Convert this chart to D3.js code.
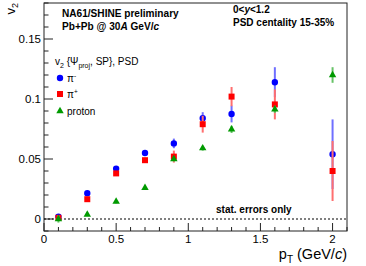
<!DOCTYPE html>
<html lang="en">
<head>
  <meta charset="UTF-8">
  <title>v2 vs pT</title>
  <script src="https://d3js.org/d3.v7.min.js"></script>
  <style>
    body { margin: 0; background: #fff; }
    text { font-family: "Liberation Sans", Arial, sans-serif; }
  </style>
</head>
<body>
  <div id="viz"></div>

  <script>
    // pT bin centres (GeV/c)
    const ptValues = [0.1, 0.3, 0.5, 0.7, 0.9, 1.1, 1.3, 1.6, 2.0];

    // v2 values and stat. errors
    const piMinusV2  = [0.002, 0.0215, 0.042, 0.055, 0.063, 0.084, 0.0875, 0.114, 0.054];
    const piMinusErr = [0.002, 0.0015, 0.0015, 0.002, 0.004, 0.005, 0.007, 0.0125, 0.029];

    const piPlusV2   = [0.001, 0.0165, 0.038, 0.049, 0.052, 0.079, 0.102, 0.0955, 0.040];
    const piPlusErr  = [0.002, 0.0015, 0.0015, 0.002, 0.005, 0.007, 0.008, 0.0125, 0.025];

    const protonV2   = [0.000, 0.0037, 0.0145, 0.026, 0.050, 0.059, 0.0747, 0.0914, 0.120];
    const protonErr  = [0.003, 0.001, 0.0015, 0.0015, 0.002, 0.002, 0.003, 0.003, 0.0065];

    const xTicks = [0, 0.5, 1, 1.5, 2];
    const yTicks = [0, 0.05, 0.1, 0.15];

    const W = 366, H = 266;
    const m = { left: 44, right: 19, top: 3, bottom: 35 };

    const svg = d3.select('#viz')
      .append('svg')
        .attr('width', W)
        .attr('height', H);

    const x = d3.scaleLinear().domain([0, 2.1]).range([m.left, W - m.right]);
    const y = d3.scaleLinear().domain([-0.01, 0.18]).range([H - m.bottom, m.top]);

    // frame
    svg.append('rect')
      .attr('x', x(0)).attr('y', y(0.18))
      .attr('width', x(2.1) - x(0)).attr('height', y(-0.01) - y(0.18))
      .attr('fill', 'none').attr('stroke', '#222').attr('stroke-width', 1);

    // x axis ticks (major + minor)
    const xMinor = d3.range(0, 2.1001, 0.1);
    svg.append('g').selectAll('line')
      .data(xMinor)
      .join('line')
        .attr('x1', d => x(d)).attr('x2', d => x(d))
        .attr('y1', y(-0.01))
        .attr('y2', d => y(-0.01) - (Math.abs(d * 2 - Math.round(d * 2)) < 1e-6 ? 8 : 4))
        .attr('stroke', '#222');

    svg.append('g').selectAll('text')
      .data(xTicks)
      .join('text')
        .attr('x', d => x(d)).attr('y', y(-0.01) + 12)
        .attr('text-anchor', 'middle')
        .attr('font-size', 11.5)
        .text(d => d);

    // y axis ticks
    const yMinor = d3.range(-0.01, 0.1801, 0.01);
    svg.append('g').selectAll('line')
      .data(yMinor)
      .join('line')
        .attr('y1', d => y(d)).attr('y2', d => y(d))
        .attr('x1', x(0))
        .attr('x2', d => x(0) + (Math.abs(d * 20 - Math.round(d * 20)) < 1e-6 ? 9 : 4.5))
        .attr('stroke', '#222');

    svg.append('g').selectAll('text')
      .data(yTicks)
      .join('text')
        .attr('x', x(0) - 3).attr('y', d => y(d) + 4)
        .attr('text-anchor', 'end')
        .attr('font-size', 11.5)
        .text(d => d);

    // dashed zero line
    svg.append('line')
      .attr('x1', x(0)).attr('x2', x(2.1))
      .attr('y1', y(0)).attr('y2', y(0))
      .attr('stroke', '#000').attr('stroke-dasharray', '2,2');

    // axis titles
    const yt = svg.append('text')
      .attr('transform', `translate(15, ${m.top}) rotate(-90)`)
      .attr('text-anchor', 'end')
      .attr('font-size', 13);
    yt.append('tspan').text('v');
    yt.append('tspan').attr('dy', 3).attr('font-size', 9).text('2');

    const xt = svg.append('text')
      .attr('x', x(2.1)).attr('y', 259)
      .attr('text-anchor', 'end')
      .attr('font-size', 14.5);
    xt.append('tspan').text('p');
    xt.append('tspan').attr('dy', 3.5).attr('font-size', 10).text('T');
    xt.append('tspan').attr('dy', -3.5).text(' (GeV/');
    xt.append('tspan').attr('font-style', 'italic').text('c');
    xt.append('tspan').text(')');

    // data series
    const series = [
      { v: piMinusV2, e: piMinusErr, color: '#0000ff', bar: '#6f6fff', shape: d3.symbolCircle, size: 32 },
      { v: piPlusV2,  e: piPlusErr,  color: '#ff0000', bar: '#ff6f6f', shape: d3.symbolSquare, size: 36 },
      { v: protonV2,  e: protonErr,  color: '#009a00', bar: '#66c266', shape: d3.symbolTriangle, size: 24 }
    ];

    series.forEach(s => {
      const pts = ptValues.map((p, i) => ({ p, v: s.v[i], e: s.e[i] }));
      const g = svg.append('g');
      g.selectAll('line')
        .data(pts)
        .join('line')
          .attr('x1', d => x(d.p)).attr('x2', d => x(d.p))
          .attr('y1', d => y(d.v - d.e)).attr('y2', d => y(d.v + d.e))
          .attr('stroke', s.bar).attr('stroke-width', 2);
      g.selectAll('path')
        .data(pts)
        .join('path')
          .attr('transform', d => `translate(${x(d.p)}, ${y(d.v)})`)
          .attr('d', d3.symbol().type(s.shape).size(s.size))
          .attr('fill', s.color);
    });

    // header texts
    const bold = (tx, ty, parts, size) => {
      const t = svg.append('text').attr('x', tx).attr('y', ty)
        .attr('font-size', size).attr('font-weight', 'bold');
      parts.forEach(p => t.append('tspan').attr('font-style', p[1] ? 'italic' : null).text(p[0]));
    };
    bold(62, 17, [['NA61/SHINE preliminary']], 10.1);
    bold(62, 30, [['Pb+Pb @ 30'], ['A', 1], [' GeV/'], ['c', 1]], 10.1);
    bold(233, 13, [['0<'], ['y', 1], ['<1.2']], 10);
    bold(233, 26, [['PSD centality 15-35%']], 10);
    bold(216, 213, [['stat. errors only']], 10);

    // legend
    const lt = svg.append('text').attr('x', 55).attr('y', 65).attr('font-size', 10);
    lt.append('tspan').text('v');
    lt.append('tspan').attr('dy', 2.5).attr('font-size', 7).text('2');
    lt.append('tspan').attr('dy', -2.5).text(' {Ψ');
    lt.append('tspan').attr('dy', 2.5).attr('font-size', 7).text('proj');
    lt.append('tspan').attr('dy', -2.5).text(', SP}, PSD');

    const legendItems = [
      { label: 'π', sup: '-', s: series[0], y: 78 },
      { label: 'π', sup: '+', s: series[1], y: 94 },
      { label: 'proton', sup: '', s: series[2], y: 111 }
    ];
    legendItems.forEach(it => {
      svg.append('path')
        .attr('transform', `translate(60, ${it.y})`)
        .attr('d', d3.symbol().type(it.s.shape).size(it.s.size))
        .attr('fill', it.s.color);
      const t = svg.append('text').attr('x', 67).attr('y', it.y + 3.5).attr('font-size', 10);
      t.append('tspan').text(it.label);
      if (it.sup) t.append('tspan').attr('dy', -3.5).attr('font-size', 6.5).text(it.sup);
    });
  </script>
</body>
</html>
